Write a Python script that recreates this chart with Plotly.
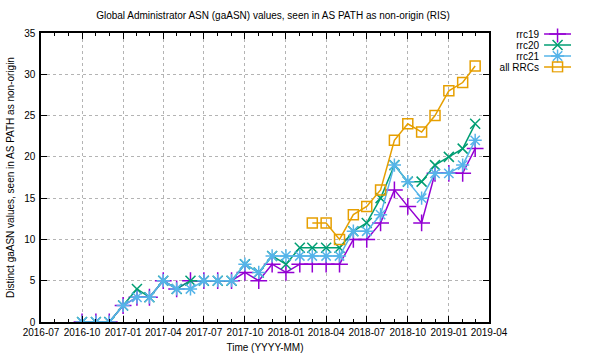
import plotly.graph_objects as go

months = ["2016-10-01", "2016-11-01", "2016-12-01", "2017-01-01", "2017-02-01", "2017-03-01",
          "2017-04-01", "2017-05-01", "2017-06-01", "2017-07-01", "2017-08-01", "2017-09-01",
          "2017-10-01", "2017-11-01", "2017-12-01", "2018-01-01", "2018-02-01", "2018-03-01",
          "2018-04-01", "2018-05-01", "2018-06-01", "2018-07-01", "2018-08-01", "2018-09-01",
          "2018-10-01", "2018-11-01", "2018-12-01", "2019-01-01", "2019-02-01", "2019-03-01"]

rrc19 = [0, 0, 0, 2, 3, 3, 5, 4, 5, 5, 5, 5, 6, 5, 7, 6, 7, 7, 7, 7, 10, 10, 12, 16, 14, 12, 18, 18, 18, 21]
rrc20 = [0, 0, 0, 2, 4, 3, 5, 4, 5, 5, 5, 5, 7, 6, 8, 7, 9, 9, 9, 9, 11, 12, 15, 19, 17, 17, 19, 20, 21, 24]
rrc21 = [0, 0, 0, 2, 3, 3, 5, 4, 4, 5, 5, 5, 7, 6, 8, 8, 8, 8, 8, 8, 11, 11, 13, 19, 17, 15, 18, 18, 19, 22]
all_rrcs = [None] * 17 + [12, 12, 10, 13, 14, 16, 22, 24, 23, 25, 28, 29, 31]

series_names = ["rrc19", "rrc20", "rrc21", "all RRCs"]
series_values = [rrc19, rrc20, rrc21, all_rrcs]
colors = ["#9400d3", "#009e73", "#56b4e9", "#e69f00"]
symbols = ["cross-thin-open", "x-thin-open", "asterisk-open", "square-open"]
sizes = [12, 10, 11, 10]

x_range = ["2016-07-01", "2019-04-01"]
y_range = [0, 35]

FONT = "Liberation Sans, Arial, Helvetica, sans-serif"
W, H = 600, 360
ML, MR, MT, MB = 41, 8, 20, 38
pw = W - ML - MR
ph = H - MT - MB

def px_x(p):
    return (p - ML) / pw

def px_y(p):
    return (H - MB - p) / ph

fig = go.Figure()

for name, vals, c, s, sz in zip(series_names, series_values, colors, symbols, sizes):
    fig.add_trace(go.Scatter(
        x=months, y=vals, name=name, mode="lines+markers",
        line=dict(color=c, width=1.5),
        marker=dict(symbol=s, size=sz, color=c, line=dict(color=c, width=1.5)),
        showlegend=False, connectgaps=False, xaxis="x", yaxis="y"))

# manual gnuplot-style key: labels left of sample line + point
for name, c, s, sz in zip(series_names, colors, symbols, sizes):
    fig.add_trace(go.Scatter(
        x=[0, 1], y=[name, name], mode="lines", line=dict(color=c, width=1.5),
        showlegend=False, hoverinfo="skip", xaxis="x2", yaxis="y2"))
    fig.add_trace(go.Scatter(
        x=[0.5], y=[name], mode="markers",
        marker=dict(symbol=s, size=sz, color=c, line=dict(color=c, width=1.5)),
        showlegend=False, hoverinfo="skip", xaxis="x2", yaxis="y2"))

axis_common = dict(
    showline=True, linecolor="black", linewidth=1.5, mirror="allticks",
    ticks="inside", tickcolor="black", tickwidth=1, ticklen=6,
    showgrid=True, gridcolor="#b4b4b4", griddash="dot", gridwidth=1,
    zeroline=False, tickfont=dict(family=FONT, size=10, color="black"),
)

fig.update_layout(
    width=W, height=H,
    margin=dict(l=ML, r=MR, t=MT, b=MB),
    paper_bgcolor="white", plot_bgcolor="white",
    font=dict(family=FONT, size=10, color="black"),
    title=dict(text="Global Administrator ASN (gaASN) values, seen in AS PATH as non-origin (RIS)",
               x=273 / W, xref="container", xanchor="center",
               y=1 - 15 / H, yref="container", yanchor="middle",
               font=dict(family=FONT, size=10, color="black")),
    xaxis=dict(
        type="date", range=x_range, domain=[0, px_x(505)],
        tick0="2016-07-01", dtick="M3", tickformat="%Y-%m",
        minor=dict(dtick="M1", ticks="inside", ticklen=3, tickcolor="black", showgrid=False),
        title=dict(text="Time (YYYY-MM)", font=dict(family=FONT, size=10), standoff=7),
        anchor="y", **axis_common),
    yaxis=dict(
        range=y_range, domain=[0, px_y(33)], dtick=5, tick0=0,
        ticklabelstandoff=2,
        title=dict(text="Distinct gaASN values, seen in AS PATH as non-origin",
                   font=dict(family=FONT, size=10), standoff=8),
        anchor="x", **axis_common),
    xaxis2=dict(domain=[px_x(562), px_x(590)], range=[0, 1], visible=False,
                anchor="y2", fixedrange=True),
    yaxis2=dict(domain=[px_y(72.5), px_y(28.5)], type="category",
                categoryorder="array", categoryarray=series_names,
                tickmode="array", tickvals=series_names, ticktext=series_names,
                range=[3.5, -0.5], anchor="x2", showline=False, showgrid=False,
                zeroline=False, ticks="", ticklabelstandoff=4,
                tickfont=dict(family=FONT, size=10, color="black"), fixedrange=True),
)

fig.write_html("out.html", config={"displayModeBar": False},
               post_script="document.body.style.margin='0';document.body.style.padding='0';")
